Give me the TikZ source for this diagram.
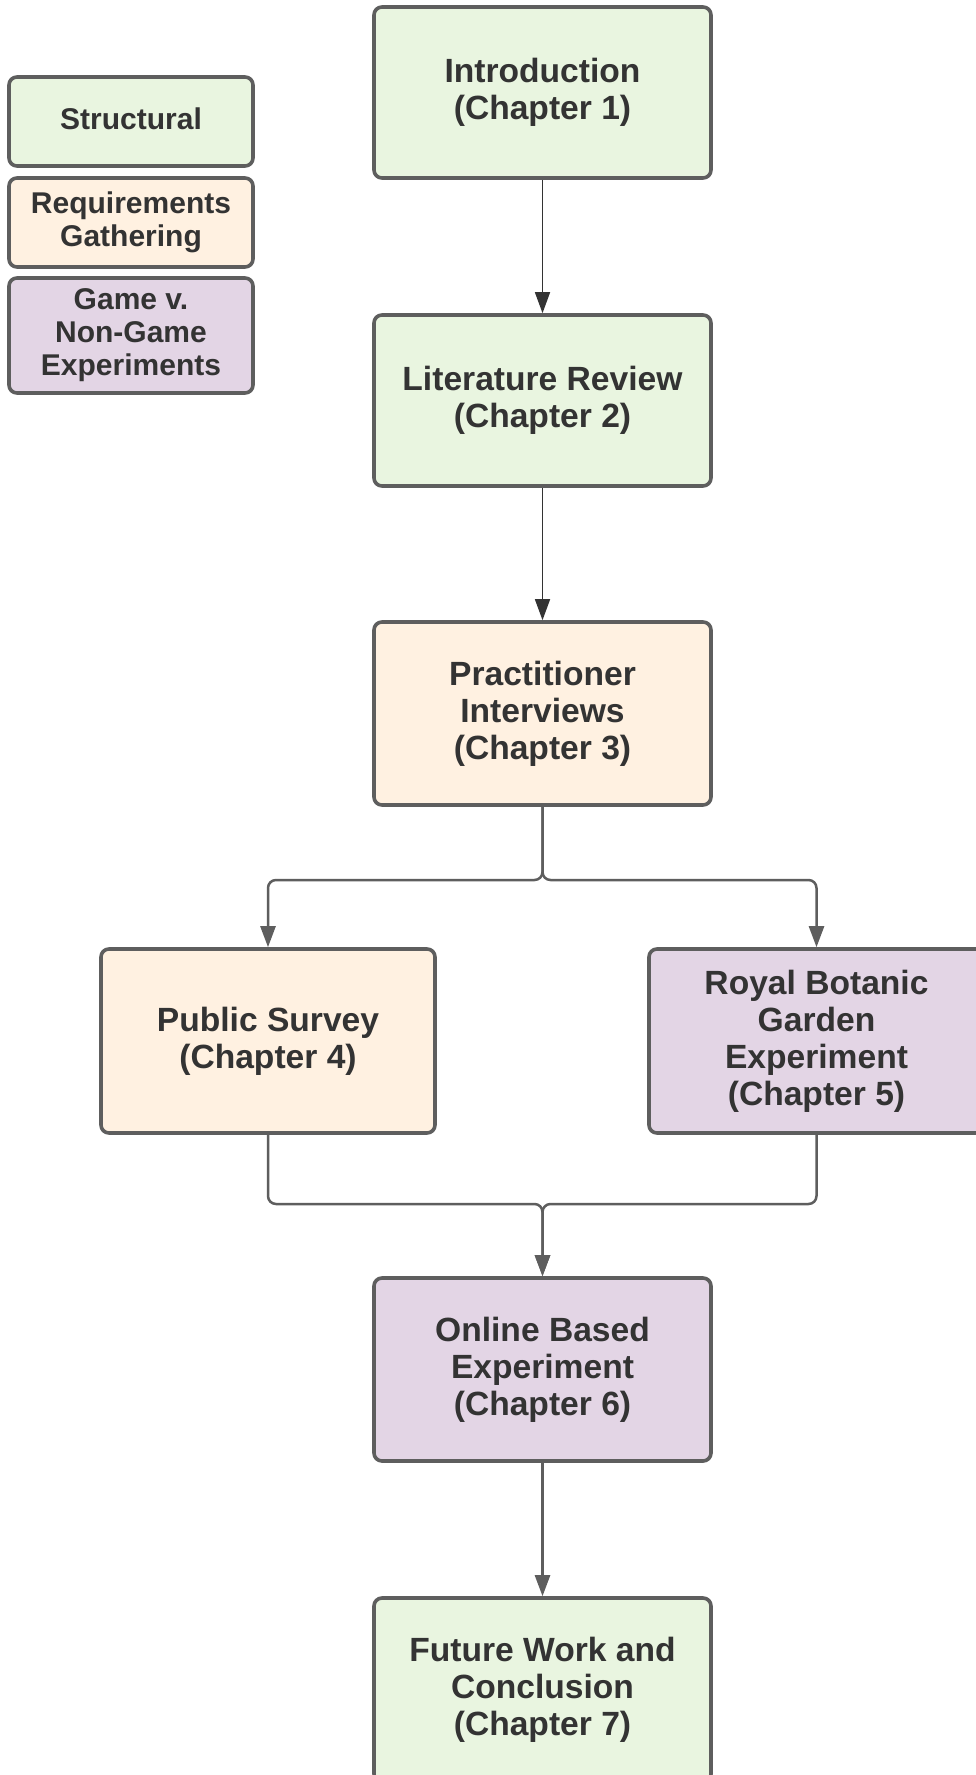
\documentclass[tikz,border=0pt]{standalone}
\usepackage{fontspec}
\setmainfont{Liberation Sans}
\usetikzlibrary{arrows.meta}
\definecolor{sgreen}{HTML}{E9F5E0}
\definecolor{speach}{HTML}{FFF1E1}
\definecolor{spurple}{HTML}{E3D5E5}
\definecolor{bordergray}{HTML}{5E5E5E}
\definecolor{textgray}{HTML}{333333}
\definecolor{darkline}{HTML}{333333}
\begin{document}
\begin{tikzpicture}[x=0.5pt,y=-0.5pt,
  box/.style={draw=bordergray, line width=1.8pt, rounded corners=4pt, align=center,
    text=textgray, inner sep=0pt, font=\fontsize{16.8}{18.5}\selectfont\bfseries},
  mainbox/.style={box, minimum width=168.5pt},
  legbox/.style={box, minimum width=122pt, font=\fontsize{15}{16.5}\selectfont\bfseries},
  thinarrow/.style={draw=darkline, line width=0.75pt, -{Triangle[length=10.5pt,width=7.5pt]}},
  grayarrow/.style={draw=bordergray, line width=1.25pt, rounded corners=4pt, -{Triangle[length=10.5pt,width=7.5pt]}}
]
\useasboundingbox (0,0) rectangle (975,1775);
\fill[white] (0,0) rectangle (975,1775);
% legend
\node[legbox, fill=sgreen, minimum height=44.5pt] (lstruct) at (131,121.5) {\raisebox{3pt}{Structural}};
\node[legbox, fill=speach, minimum height=44.5pt] (lreq) at (131,222.5) {Requirements\\Gathering};
\node[legbox, fill=spurple, minimum height=57.5pt] (lgame) at (131,335.5) {Game v.\\Non-Game\\Experiments};
% main boxes
\node[mainbox, fill=sgreen, minimum height=85.5pt] (intro) at (542.5,92.5) {Introduction\\(Chapter 1)};
\node[mainbox, fill=sgreen, minimum height=85.5pt] (lit) at (542.5,400.5) {Literature Review\\(Chapter 2)};
\node[mainbox, fill=speach, minimum height=91.5pt] (pract) at (542.5,713.5) {Practitioner\\Interviews\\(Chapter 3)};
\node[mainbox, fill=speach, minimum height=92pt, minimum width=167pt] (public) at (268,1041) {Public Survey\\(Chapter 4)};
\node[mainbox, fill=spurple, minimum height=92pt, minimum width=167.5pt] (royal) at (816.5,1041) {Royal Botanic\\Garden\\Experiment\\(Chapter 5)};
\node[mainbox, fill=spurple, minimum height=91.5pt] (online) at (542.5,1369.5) {Online Based\\Experiment\\(Chapter 6)};
\node[mainbox, fill=sgreen, minimum height=92pt] (future) at (542.5,1690) {Future Work and\\Conclusion\\(Chapter 7)};
% connectors
\coordinate (split) at (542.5,880);
\coordinate (merge) at (542.5,1204);
\draw[thinarrow] (intro.south) -- (lit.north);
\draw[thinarrow] (lit.south) -- (pract.north);
\draw[grayarrow] (pract.south) -- (split) -| (public.north);
\draw[grayarrow] (pract.south) -- (split) -| (royal.north);
\draw[grayarrow] (public.south) |- (merge) -- (online.north);
\draw[grayarrow] (royal.south) |- (merge) -- (online.north);
\draw[grayarrow] (online.south) -- (future.north);
\end{tikzpicture}
\end{document}
